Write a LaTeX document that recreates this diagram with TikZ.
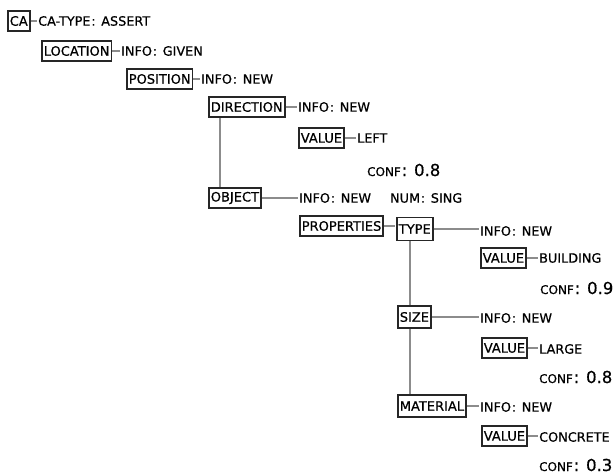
\documentclass[tikz,border=0pt]{standalone}
\usepackage{fontspec}
\setmainfont{DejaVu Sans}[FakeBold=0.6]
\begin{document}
\begin{tikzpicture}[x=1pt,y=-1pt,
  fbox/.style={draw=black!85,line width=1.6pt,anchor=west,inner xsep=2pt,
    inner ysep=0pt,minimum height=20pt,font=\fontsize{13}{14}\selectfont},
  lbl/.style={anchor=west,inner sep=0pt,font=\fontsize{12.8}{15}\selectfont},
  conf/.style={anchor=west,inner sep=0pt,font=\fontsize{12}{15}\selectfont},
  link/.style={draw=black!45,line width=1.3pt}]
\useasboundingbox (0,0) rectangle (613,474);
% wide colon used in the slot labels
\newcommand{\cl}{\kern0.8pt:\kern1.6pt}
\newcommand{\cf}[1]{CONF{\fontsize{16.5}{18}\selectfont\cl{} #1}}

% frame boxes
\node[fbox] (ca) at (7,21) {CA};
\node[fbox] (loc) at (41,51) {LOCATION};
\node[fbox] (pos) at (126,79) {POSITION};
\node[fbox] (dir) at (208,107) {DIRECTION};
\node[fbox] (val1) at (298,138) {VALUE};
\node[fbox] (obj) at (208,198) {OBJECT};
\node[fbox] (prop) at (299,226) {PROPERTIES};
\node[fbox,minimum height=23pt] (type) at (396,229) {TYPE};
\node[fbox] (val2) at (480,258) {VALUE};
\node[fbox,minimum height=22pt] (size) at (397,317) {SIZE};
\node[fbox] (val3) at (481,348) {VALUE};
\node[fbox,minimum height=22pt] (mat) at (397,406) {MATERIAL};
\node[fbox] (val4) at (481,436) {VALUE};

% slot labels
\node[lbl] (t1) at (38,21) {CA-TYPE\cl{} ASSERT};
\node[lbl] (t2) at (121,51) {INFO\cl{} GIVEN};
\node[lbl] (t3) at (201,79) {INFO\cl{} NEW};
\node[lbl] (t4) at (298,107) {INFO\cl{} NEW};
\node[lbl] (t5) at (357,138) {LEFT};
\node[conf] (c1) at (367,170) {\cf{0.8}};
\node[lbl] (t6) at (299,198) {INFO\cl{} NEW\hspace{19pt}NUM\cl{} SING};
\node[lbl] (t7) at (480,231) {INFO\cl{} NEW};
\node[lbl] (t8) at (539,258) {BUILDING};
\node[conf] (c2) at (540,288) {\cf{0.9}};
\node[lbl] (t9) at (480,318) {INFO\cl{} NEW};
\node[lbl] (t10) at (539,349) {LARGE};
\node[conf] (c3) at (539,377) {\cf{0.8}};
\node[lbl] (t11) at (480,407) {INFO\cl{} NEW};
\node[lbl] (t12) at (539,437) {CONCRETE};
\node[conf] (c4) at (539,465) {\cf{0.3}};

% horizontal links
\foreach \a/\b in {ca/t1,loc/t2,pos/t3,dir/t4,val1/t5,obj/t6,prop/type,
                   type/t7,val2/t8,size/t9,val3/t10,mat/t11,val4/t12}
  \draw[link] (\a.east) -- ([xshift=-1pt]\a.east -| \b.west);

% vertical links
\draw[link] ([xshift=12pt]dir.south west) -- ([xshift=12pt]obj.north west);
\draw[link] ([xshift=14pt]type.south west) -- ([xshift=13pt]size.north west);
\draw[link] ([xshift=13pt]size.south west) -- ([xshift=13pt]mat.north west);
\end{tikzpicture}
\end{document}
